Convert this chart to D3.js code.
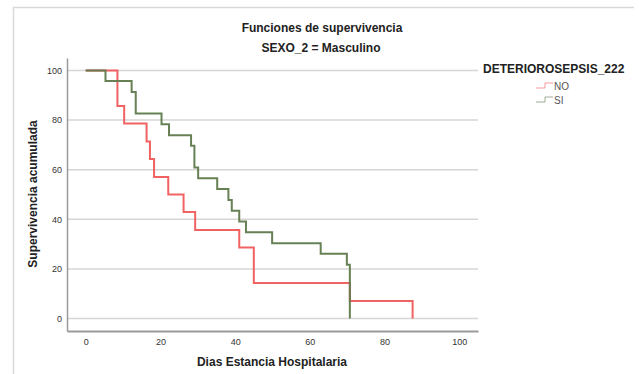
<!DOCTYPE html>
<html>
<head>
<meta charset="utf-8">
<script src="https://cdn.jsdelivr.net/npm/d3@7"></script>
<style>
  body { margin: 0; background: #fff; }
  svg { font-family: "Liberation Sans", Arial, sans-serif; }
</style>
</head>
<body>
<svg id="view" width="639" height="374"></svg>
<script>
// Kaplan-Meier steps
var groups = ['NO', 'SI'];
var colors = ['#f05a5a', '#5f7a4c'];
var timesNO = [0, 8.5, 10.3, 16.3, 17.2, 18.3, 22.1, 26.2, 29.3, 41.1, 45, 70.7, 87.5];
var survNO  = [100, 85.7, 78.6, 71.4, 64.3, 57.1, 50, 42.9, 35.7, 28.6, 14.3, 7.1, 0];
var timesSI = [0, 5.3, 12.3, 13.4, 20.3, 22.3, 28.2, 29.1, 30.1, 35.2, 38.2, 39.1, 41.1, 42.9, 49.9, 62.9, 69.9, 70.7];
var survSI  = [100, 95.7, 91.3, 82.6, 78.3, 73.9, 69.6, 60.9, 56.5, 52.2, 47.8, 43.5, 39.1, 34.8, 30.4, 26.1, 21.7, 0];
var xTicks = [0, 20, 40, 60, 80, 100];
var yTicks = [0, 20, 40, 60, 80, 100];

var svg = d3.select('svg#view');

// outer frame (top + left only visible)
svg.append('path').attr('d', 'M13.5,374 V7.5 H634')
	.attr('fill', 'none').attr('stroke', '#d9d9d9').attr('stroke-width', 1.5);

var x = d3.scaleLinear().domain([-5, 105]).range([67, 478]);
var y = d3.scaleLinear().domain([-5, 105]).range([331, 58]);

// gridlines
svg.append('g').selectAll('line').data(yTicks).enter().append('line')
	.attr('x1', 67).attr('x2', 478)
	.attr('y1', function(d) { return y(d); }).attr('y2', function(d) { return y(d); })
	.attr('stroke', '#d6d6d6').attr('stroke-width', 1.5);

// axes
var yAxis = svg.append('g').attr('transform', 'translate(67,0)')
	.call(d3.axisLeft(y).tickValues(yTicks).tickSize(0).tickPadding(5));
var xAxis = svg.append('g').attr('transform', 'translate(0,331)')
	.call(d3.axisBottom(x).tickValues(xTicks).tickSize(0).tickPadding(8));
[yAxis, xAxis].forEach(function(a) {
	a.select('.domain').attr('stroke', '#9a9a9a').attr('stroke-width', 2);
	a.selectAll('text').attr('fill', '#333').style('font-size', '9px')
		.style('font-family', '"Liberation Sans", Arial, sans-serif');
});
yAxis.select('.domain').attr('stroke-width', 1.5);

// survival curves
function steps(ts, vs) {
	var pts = [[ts[0], vs[0]]];
	for (var i = 1; i < ts.length; i++) {
		pts.push([ts[i], vs[i-1]]);
		pts.push([ts[i], vs[i]]);
	}
	return pts;
}
var line = d3.line().x(function(d) { return x(d[0]); }).y(function(d) { return y(d[1]); });
var series = [steps(timesNO, survNO), steps(timesSI, survSI)];
series.forEach(function(s, i) {
	svg.append('path').datum(s).attr('d', line)
		.attr('fill', 'none').attr('stroke', colors[i]).attr('stroke-width', 2)
		.attr('stroke-opacity', 0.95);
});

// titles
svg.append('text').attr('x', 322).attr('y', 32).attr('text-anchor', 'middle')
	.style('font-size', '12px').style('font-weight', 'bold').attr('fill', '#222')
	.text('Funciones de supervivencia');
svg.append('text').attr('x', 321).attr('y', 52).attr('text-anchor', 'middle')
	.style('font-size', '12px').style('font-weight', 'bold').attr('fill', '#222')
	.text('SEXO_2 = Masculino');
svg.append('text').attr('x', 272).attr('y', 366).attr('text-anchor', 'middle')
	.style('font-size', '12px').style('font-weight', 'bold').attr('fill', '#222')
	.text('Dias Estancia Hospitalaria');
svg.append('text').attr('transform', 'translate(37,194) rotate(-90)').attr('text-anchor', 'middle')
	.style('font-size', '12px').style('font-weight', 'bold').attr('fill', '#222')
	.text('Supervivencia acumulada');

// legend
svg.append('text').attr('x', 483).attr('y', 73)
	.style('font-size', '12px').style('font-weight', 'bold').attr('fill', '#222')
	.text('DETERIOROSEPSIS_222');
var leg = svg.append('g').selectAll('g').data(groups).enter().append('g')
	.attr('transform', function(d, i) { return 'translate(536,' + (83 + i * 14) + ')'; });
leg.append('path').attr('d', 'M0,5 H9 V0 H17')
	.attr('fill', 'none').attr('stroke', function(d, i) { return colors[i]; })
	.attr('stroke-width', 1).attr('stroke-opacity', 0.6);
leg.append('text').attr('x', 18).attr('y', 6.5)
	.style('font-size', '10px').attr('fill', '#555')
	.text(function(d) { return d; });
</script>
</body>
</html>
